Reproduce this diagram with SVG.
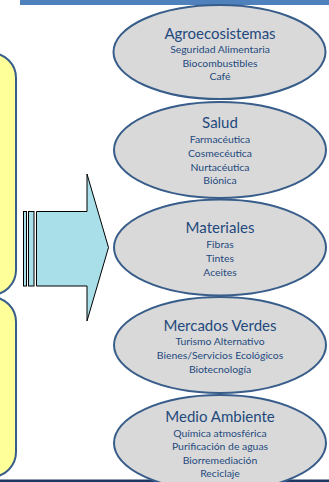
<svg xmlns="http://www.w3.org/2000/svg" width="329" height="482" viewBox="0 0 329 482">
<style>
.box{fill:#ffff99;stroke:#385d8a;stroke-width:2}
.ell{fill:#d9d9d9;stroke:#385d8a;stroke-width:2}
.arr{fill:#a9dfe8;stroke:#000;stroke-width:1}
.t{font-family:Lato,"Liberation Sans",sans-serif;fill:#1f497d;text-anchor:middle}
.h{font-size:15px}
.s{font-size:10.4px}
</style>
<rect x="0" y="0" width="329" height="482" fill="#fff"/>
<rect x="20" y="0" width="309" height="5" fill="#4f81bd"/>
<rect x="0" y="479.5" width="329" height="2.5" fill="#1f3864"/>
<g id="box1"><rect class="box" x="-50" y="53" width="66" height="242" rx="25"/></g>
<g id="box2"><rect class="box" x="-50" y="297" width="66" height="180" rx="25"/></g>
<g id="connectors">
<rect class="arr" x="23.5" y="211.5" width="3" height="74.5"/>
<rect class="arr" x="28.5" y="211.5" width="5.5" height="74.5"/>
<polygon class="arr" points="36.5,211.5 87,211.5 87,174 108.5,247.5 87,321 87,286 36.5,286"/>
</g>
<g id="n1"><ellipse class="ell" cx="219.5" cy="52" rx="106" ry="47"/>
<text class="t h" x="220" y="38.5">Agroecosistemas</text>
<text class="t s" x="220" y="53">Seguridad Alimentaria</text>
<text class="t s" x="220" y="66.5">Biocombustibles</text>
<text class="t s" x="220" y="80">Café</text></g>
<g id="n2"><ellipse class="ell" cx="220" cy="150" rx="106" ry="48"/>
<text class="t h" x="220" y="128">Salud</text>
<text class="t s" x="220" y="143">Farmacéutica</text>
<text class="t s" x="220" y="157">Cosmecéutica</text>
<text class="t s" x="220" y="171">Nurtacéutica</text>
<text class="t s" x="220" y="184">Biónica</text></g>
<g id="n3"><ellipse class="ell" cx="220" cy="247.5" rx="106" ry="48"/>
<text class="t h" x="220" y="233">Materiales</text>
<text class="t s" x="220" y="248">Fibras</text>
<text class="t s" x="220" y="262">Tintes</text>
<text class="t s" x="220" y="276">Aceites</text></g>
<g id="n4"><ellipse class="ell" cx="220" cy="345" rx="106" ry="48"/>
<text class="t h" x="220" y="331">Mercados Verdes</text>
<text class="t s" x="220" y="345">Turismo Alternativo</text>
<text class="t s" x="220" y="359">Bienes/Servicios Ecológicos</text>
<text class="t s" x="220" y="373">Biotecnología</text></g>
<g id="n5"><ellipse class="ell" cx="220" cy="443" rx="106" ry="48"/>
<text class="t h" x="220" y="422">Medio Ambiente</text>
<text class="t s" x="220" y="437">Química atmosférica</text>
<text class="t s" x="220" y="450">Purificación de aguas</text>
<text class="t s" x="220" y="463.5">Biorremediación</text>
<text class="t s" x="220" y="477">Reciclaje</text></g>
</svg>
